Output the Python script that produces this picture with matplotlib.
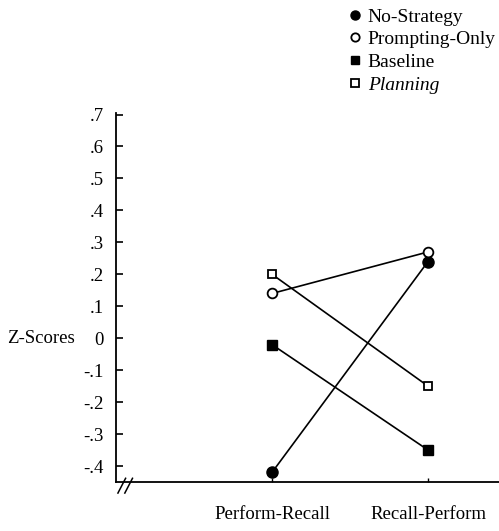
import matplotlib.pyplot as plt
from matplotlib.lines import Line2D

plt.rcParams['font.family'] = ['Liberation Serif', 'DejaVu Serif']

# conditions on the x axis
conditions = ['Perform-Recall', 'Recall-Perform']

# z-scores per group
no_strategy = [-0.42, 0.24]
prompting_only = [0.14, 0.27]
baseline = [-0.02, -0.35]
planning = [0.20, -0.15]

yticks = [0.7, 0.6, 0.5, 0.4, 0.3, 0.2, 0.1, 0.0, -0.1, -0.2, -0.3, -0.4]
ylabels = ['.7', '.6', '.5', '.4', '.3', '.2', '.1', '0', '-.1', '-.2', '-.3', '-.4']

fig = plt.figure(figsize=(4.99, 5.31), dpi=100)
ax = fig.add_axes([0.2325, 0.0923, 0.7675, 0.695])

x = list(range(len(conditions)))
ax.plot(x, no_strategy, color='black', lw=1.2, marker='o', ms=8, mfc='black', mec='black')
ax.plot(x, prompting_only, color='black', lw=1.2, marker='o', ms=7, mfc='white', mec='black', mew=1.3)
ax.plot(x, baseline, color='black', lw=1.2, marker='s', ms=6.5, mfc='black', mec='black')
ax.plot(x, planning, color='black', lw=1.2, marker='s', ms=6, mfc='white', mec='black', mew=1.3)

ax.set_xlim(-1.0, 1.455)
ax.set_ylim(-0.45, 0.705)
ax.set_yticks(yticks)
ax.set_yticklabels(ylabels)
ax.set_xticks(x)
ax.set_xticklabels(conditions)

ax.spines['top'].set_visible(False)
ax.spines['right'].set_visible(False)
ax.spines['left'].set_linewidth(1.3)
ax.spines['bottom'].set_linewidth(1.3)
ax.tick_params(axis='y', direction='in', length=5, width=1.2, pad=9, labelsize=13.5)
ax.tick_params(axis='x', direction='in', length=3, width=1.0, pad=17, labelsize=13.5)

ax.set_ylabel('Z-Scores', rotation=0, fontsize=13.5, ha='center', va='center')
ax.yaxis.set_label_coords(-0.195, (0 + 0.45) / 1.155)

# axis break mark
for dx in (0.0, 0.018):
    ax.plot([0.005 + dx, 0.025 + dx], [-0.03, 0.01], transform=ax.transAxes,
            color='black', lw=1.1, clip_on=False)

handles = [
    Line2D([], [], ls='none', marker='o', ms=6.5, mfc='black', mec='black'),
    Line2D([], [], ls='none', marker='o', ms=6, mfc='white', mec='black', mew=1.3),
    Line2D([], [], ls='none', marker='s', ms=5.5, mfc='black', mec='black'),
    Line2D([], [], ls='none', marker='s', ms=5.5, mfc='white', mec='black', mew=1.3),
]
names = ['No-Strategy', 'Prompting-Only', 'Baseline', 'Planning']
leg = fig.legend(handles, names, loc='upper left', bbox_to_anchor=(0.70, 0.985),
                 frameon=False, handlelength=0.6, handletextpad=0.35,
                 labelspacing=0.26, borderpad=0, borderaxespad=0, fontsize=14)
leg.get_texts()[3].set_style('italic')

fig.savefig('out.png', dpi=100)
